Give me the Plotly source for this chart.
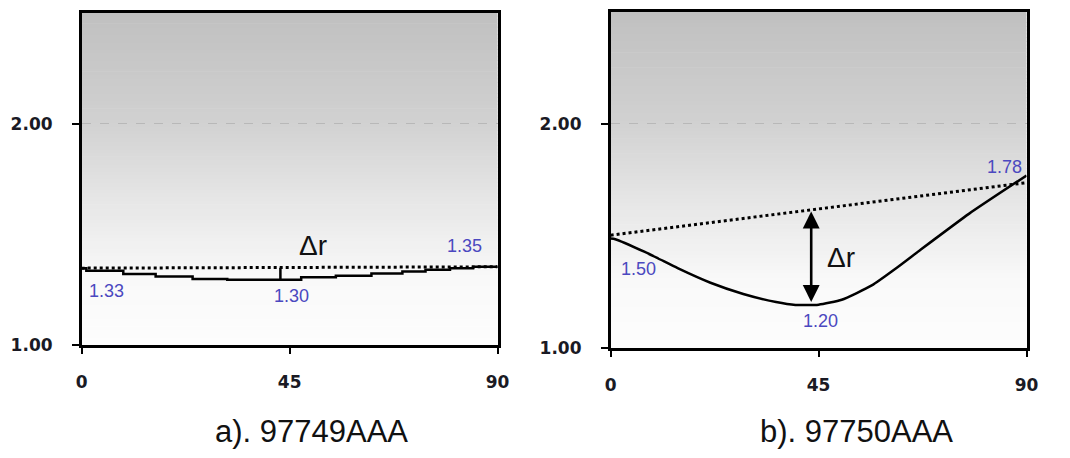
import plotly.graph_objects as go

# ---- data ----
x_ticks = [0, 45, 90]
y_ticks = [1.0, 2.0]

# panel a) 97749AAA (stepped curve)
a_x = [0, 1, 9, 16, 24, 31.5, 39.7, 47.5, 55, 62.7, 69.4, 74.4, 79.7, 84.7, 90]
a_y = [1.348, 1.336, 1.322, 1.310, 1.299, 1.296, 1.296, 1.307, 1.314, 1.324, 1.333, 1.341, 1.348, 1.354, 1.356]
a_ref_x = [0, 90]
a_ref_y = [1.348, 1.354]
a_dr_x = [43, 43]
a_dr_y = [1.296, 1.350]

# panel b) 97750AAA
b_x = [0, 1, 7.4, 10.3, 14.5, 21.6, 28.7, 35.8, 40, 45, 50, 56.5, 62, 67, 77.6, 90]
b_y = [1.489, 1.486, 1.429, 1.400, 1.357, 1.292, 1.242, 1.206, 1.193, 1.194, 1.216, 1.280, 1.360, 1.438, 1.600, 1.770]
b_ref_x = [0, 90]
b_ref_y = [1.504, 1.738]
b_dr_x = 43.4
b_dr_y = [1.206, 1.616]

# value labels: (text, x, y)
a_labels = [("1.33", 5.3, 1.243), ("1.30", 45.3, 1.222), ("1.35", 82.8, 1.450)]
b_labels = [("1.50", 6.1, 1.352), ("1.20", 45.4, 1.121), ("1.78", 85.2, 1.807)]
a_delta = ("Δr", 50.0, 1.452)
b_delta = ("Δr", 49.8, 1.404)
captions = [("a). 97749AAA", 0.2907), ("b). 97750AAA", 0.8084)]

W, H = 1070, 458
fig = go.Figure()

# traces panel a
fig.add_trace(go.Scatter(x=a_ref_x, y=a_ref_y, mode="lines", xaxis="x", yaxis="y",
                         line=dict(color="black", width=3, dash="dot"), showlegend=False))
fig.add_trace(go.Scatter(x=a_x, y=a_y, mode="lines", xaxis="x", yaxis="y", line_shape="hv",
                         line=dict(color="black", width=2.5), showlegend=False))
fig.add_trace(go.Scatter(x=a_dr_x, y=a_dr_y, mode="lines", xaxis="x", yaxis="y",
                         line=dict(color="black", width=2.5), showlegend=False))
# traces panel b
fig.add_trace(go.Scatter(x=b_ref_x, y=b_ref_y, mode="lines", xaxis="x2", yaxis="y2",
                         line=dict(color="black", width=3, dash="dot"), showlegend=False))
fig.add_trace(go.Scatter(x=b_x, y=b_y, mode="lines", xaxis="x2", yaxis="y2", line_shape="spline",
                         line=dict(color="black", width=2.5, smoothing=0.5), showlegend=False))

tickfont = dict(family="DejaVu Sans", size=17, color="#1a1a24", weight="bold")
common_x = dict(range=[0, 90], tickvals=x_ticks, ticks="outside", ticklen=6, tickwidth=1.5,
                tickcolor="black", showline=True, linecolor="black", linewidth=2.5, mirror=True,
                showgrid=False, zeroline=False, tickfont=tickfont, ticklabelstandoff=14,
                fixedrange=True)
common_y = dict(range=[1, 2.5], tickvals=y_ticks, tickformat=".2f", ticks="outside", ticklen=7,
                tickwidth=1.5, tickcolor="black", showline=True, linecolor="black", linewidth=2.5,
                mirror=True, showgrid=True, gridcolor="#b8b8b8", griddash="dash", gridwidth=1,
                zeroline=False, tickfont=tickfont, ticklabelstandoff=16, fixedrange=True)

fig.update_layout(
    width=W, height=H, margin=dict(l=0, r=0, t=0, b=0),
    paper_bgcolor="white", plot_bgcolor="white", showlegend=False,
    xaxis=dict(common_x, domain=[77 / W, 500 / W], anchor="y"),
    yaxis=dict(common_y, domain=[1 - 353 / H, 1 - 13 / H], anchor="x"),
    xaxis2=dict(common_x, domain=[615 / W, 1038 / W], anchor="y2"),
    yaxis2=dict(common_y, domain=[1 - 356 / H, 1 - 12 / H], anchor="x2"),
)

# gradient background (gray top -> white bottom)
stops = [(0.0, 253), (0.2, 249), (0.4, 233), (0.67, 209), (1.0, 192)]
def gray_at(f):
    for (f0, g0), (f1, g1) in zip(stops[:-1], stops[1:]):
        if f0 <= f <= f1:
            return g0 + (g1 - g0) * (f - f0) / (f1 - f0)
    return stops[-1][1]

N = 90
shapes = []
for xr, yr in [("x domain", "y domain"), ("x2 domain", "y2 domain")]:
    for i in range(N):
        g = int(round(gray_at((i + 0.5) / N)))
        shapes.append(dict(type="rect", xref=xr, yref=yr, x0=0, x1=1, y0=i / N, y1=(i + 1) / N + 0.002,
                           fillcolor=f"rgb({g},{g},{g})", line=dict(width=0), layer="below"))
fig.update_layout(shapes=shapes)

ann = []
lblfont = dict(family="Liberation Sans", size=18, color="#4b48c0")
for t, x, y in a_labels:
    ann.append(dict(text=t, x=x, y=y, xref="x", yref="y", showarrow=False, font=lblfont))
for t, x, y in b_labels:
    ann.append(dict(text=t, x=x, y=y, xref="x2", yref="y2", showarrow=False, font=lblfont))
dfont = dict(family="Liberation Sans", size=28, color="#111111")
ann.append(dict(text=a_delta[0], x=a_delta[1], y=a_delta[2], xref="x", yref="y", showarrow=False, font=dfont))
ann.append(dict(text=b_delta[0], x=b_delta[1], y=b_delta[2], xref="x2", yref="y2", showarrow=False, font=dfont))
# double arrow (panel b)
ann.append(dict(text="", x=b_dr_x, y=b_dr_y[0], ax=b_dr_x, ay=b_dr_y[1], xref="x2", yref="y2",
                axref="x2", ayref="y2", showarrow=True, arrowside="end+start", arrowhead=2,
                startarrowhead=2, arrowsize=1.3, startarrowsize=1.3, arrowwidth=2.6, arrowcolor="black",
                standoff=0, startstandoff=0))
capfont = dict(family="Liberation Sans", size=31, color="#111111")
for t, x in captions:
    ann.append(dict(text=t, x=x, y=1 - 441 / H, xref="paper", yref="paper", showarrow=False,
                    font=capfont, xanchor="center", yanchor="middle"))
fig.update_layout(annotations=ann)

fig.write_html("out.html")
